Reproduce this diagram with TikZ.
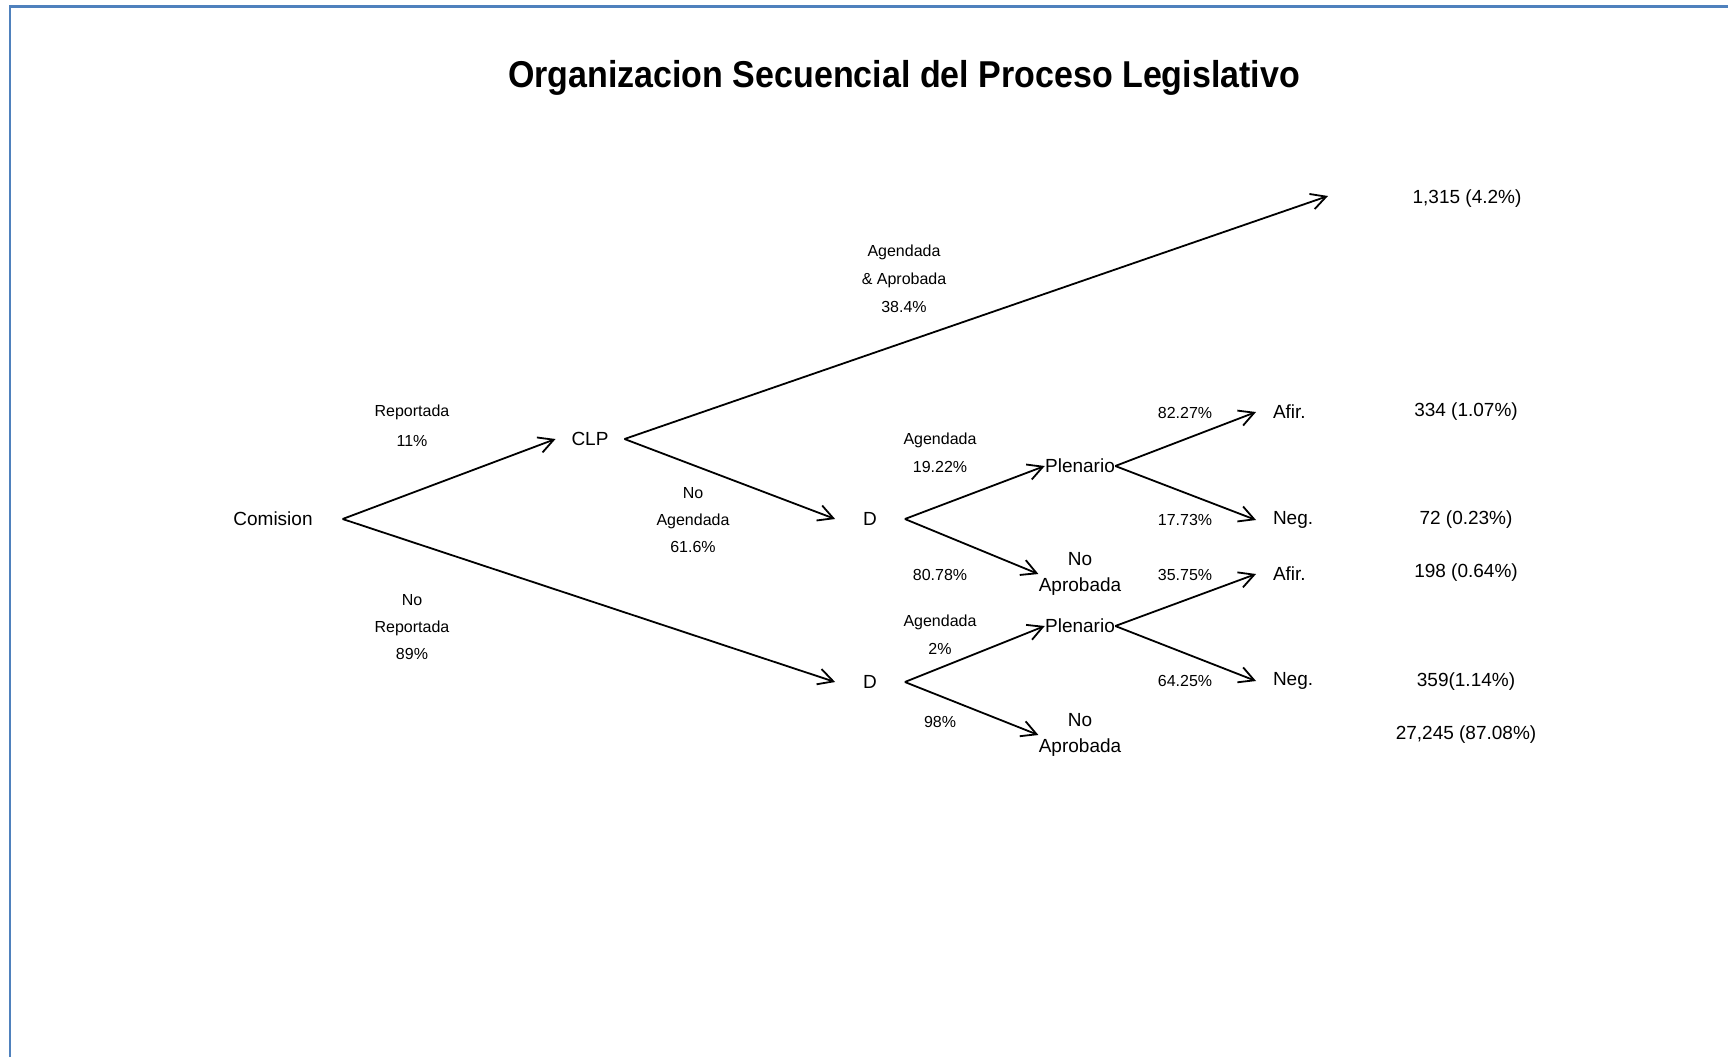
\documentclass[tikz,border=0pt]{standalone}
\usepackage{fontspec}
\setmainfont{Liberation Sans}
\usetikzlibrary{arrows.meta}
\definecolor{framblue}{RGB}{79,129,189}
\tikzset{
  %% ---- texts ----
  stage/.style = {inner sep=0pt, align=center,
                  font=\fontsize{9.5}{13}\selectfont},
  lbl/.style   = {inner sep=0pt, align=center,
                  font=\fontsize{8}{14}\selectfont},
  outcome/.style = {inner sep=0pt, anchor=west, outer xsep=8.5pt,
                  font=\fontsize{9.5}{13}\selectfont},
  %% ---- arrows ----
  arr/.style   = {-{Straight Barb[length=7.5pt, width=8pt]}, line width=0.9pt},
}

\begin{document}
\begin{tikzpicture}[x=0.5pt, y=-0.5pt]
\useasboundingbox (0,0) rectangle (1728,1057);
%% frame
\draw[framblue, line width=1.4pt] (10,1057) -- (10,6.5) -- (1728,6.5);
\node[font=\fontsize{17}{20}\selectfont\bfseries, yscale=1.1, transform shape] (title) at (904,78)
  {Organizacion Secuencial del Proceso Legislativo};

%% stages
\node[stage, outer xsep=15pt] (com)   at (273,519) {Comision};
\node[stage, outer xsep=8pt]  (clp)   at (590,439) {CLP};
\node[stage, outer xsep=14pt] (d1)    at (870,519) {D};
\node[stage, outer xsep=14pt] (d2)    at (870,682) {D};
\node[stage]                  (ple1)  at (1080,466) {Plenario};
\node[stage]                  (ple2)  at (1080,626) {Plenario};
\node[stage]                  (noap1) at (1080,574) {No\\Aprobada};
\node[stage]                  (noap2) at (1080,735) {No\\Aprobada};
\node[outcome] (afir1) at (1256,412) {Afir.};
\node[outcome] (neg1)  at (1256,520) {Neg.};
\node[outcome] (afir2) at (1256,574) {Afir.};
\node[outcome] (neg2)  at (1256,681) {Neg.};
\coordinate (appr) at (1328,196);

%% totals
\node[stage] (v1) at (1467,199) {1,315 (4.2\%)};
\node[stage] (v2) at (1466,412) {334 (1.07\%)};
\node[stage] (v3) at (1466,520) {72 (0.23\%)};
\node[stage] (v4) at (1466,573) {198 (0.64\%)};
\node[stage] (v5) at (1466,682) {359(1.14\%)};
\node[stage] (v6) at (1466,735) {27,245 (87.08\%)};

%% branch labels
\node[lbl, font=\fontsize{8}{15}\selectfont] (lrep) at (412,426) {Reportada\\11\%};
\node[lbl, font=\fontsize{8}{13.5}\selectfont] (lnorep) at (412,627) {No\\Reportada\\89\%};
\node[lbl] (lagap) at (904,279) {Agendada\\\& Aprobada\\38.4\%};
\node[lbl, font=\fontsize{8}{13.3}\selectfont] (lnoag) at (693,520) {No\\Agendada\\61.6\%};
\node[lbl] (lag1)  at (940,453) {Agendada\\19.22\%};
\node[lbl] (l8078) at (940,575) {80.78\%};
\node[lbl] (lag2)  at (940,635) {Agendada\\2\%};
\node[lbl] (l98)   at (940,722) {98\%};
\node[lbl] (l8227) at (1185,413) {82.27\%};
\node[lbl] (l1773) at (1185,520) {17.73\%};
\node[lbl] (l3575) at (1185,575) {35.75\%};
\node[lbl] (l6425) at (1185,681) {64.25\%};

%% connectors
\draw[arr] (com.east) -- (clp.west);
\draw[arr] (com.east) -- (d2.west);
\draw[arr] (clp.east) -- (appr);
\draw[arr] (clp.east) -- (d1.west);
\draw[arr] (d1.east)  -- (ple1.west);
\draw[arr] (d1.east)  -- (noap1.west);
\draw[arr] (d2.east)  -- (ple2.west);
\draw[arr] (d2.east)  -- (noap2.west);
\draw[arr] (ple1.east) -- (afir1.west);
\draw[arr] (ple1.east) -- (neg1.west);
\draw[arr] (ple2.east) -- (afir2.west);
\draw[arr] (ple2.east) -- (neg2.west);
\end{tikzpicture}
\end{document}
